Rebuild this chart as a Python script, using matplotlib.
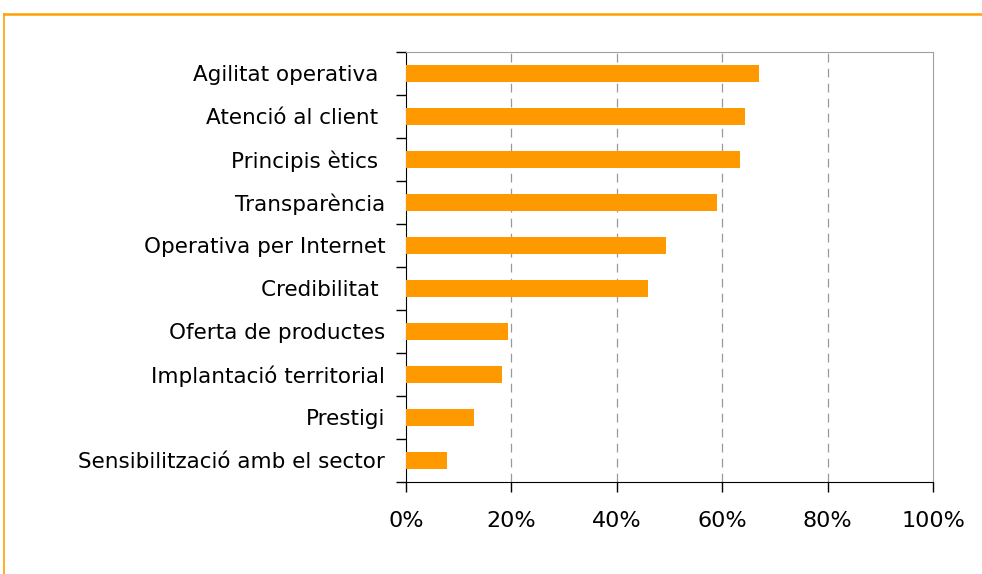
import matplotlib
matplotlib.use('Agg')
import matplotlib.pyplot as plt
from matplotlib.lines import Line2D
import numpy as np

categories = ['Agilitat operativa ', 'Atenció al client ', 'Principis ètics ', 'Transparència',
              'Operativa per Internet', 'Credibilitat ', 'Oferta de productes',
              'Implantació territorial', 'Prestigi', 'Sensibilització amb el sector']
values = [67.0, 64.3, 63.4, 59.0, 49.3, 45.9, 19.4, 18.2, 12.9, 7.8]
x_ticks = [0, 20, 40, 60, 80, 100]
x_labels = ['0%', '20%', '40%', '60%', '80%', '100%']

plt.rcParams['font.family'] = ['DejaVu Sans']

fig = plt.figure(figsize=(9.82, 5.74), dpi=100)
W, H = 982, 574
ax = fig.add_axes([406 / W, 1 - 482 / H, (933 - 406) / W, (482 - 52) / H])

y = np.arange(len(categories))
ax.barh(y, values, height=0.4, color='#FF9900', zorder=3)
ax.set_ylim(len(categories) - 0.5, -0.5)
ax.set_xlim(0, 100)

ax.set_xticks(x_ticks)
ax.set_xticklabels(x_labels, fontsize=16)
ax.set_yticks(y)
ax.set_yticklabels(categories, fontsize=15.5)
ax.set_yticks(np.arange(len(categories) + 1) - 0.5, minor=True)
ax.tick_params(axis='y', which='major', length=0, pad=15)
ax.tick_params(axis='y', which='minor', length=7, direction='out', width=1)
ax.tick_params(axis='x', length=7, direction='out', width=1, pad=14)

for v in x_ticks[1:-1]:
    ax.axvline(v, color='#999999', linestyle=(0, (7, 5)), linewidth=0.9, zorder=1)

ax.spines['top'].set_color('#A0A0A0')
ax.spines['right'].set_color('#A0A0A0')
ax.spines['left'].set_color('black')
ax.spines['bottom'].set_color('black')

# orange frame
fig.add_artist(Line2D([4 / W, 1], [1 - 14 / H, 1 - 14 / H], color='#FFA000', linewidth=1.8))
fig.add_artist(Line2D([4 / W, 4 / W], [0, 1 - 14 / H], color='#FFA000', linewidth=1.2))

fig.savefig('out.png', dpi=100)
